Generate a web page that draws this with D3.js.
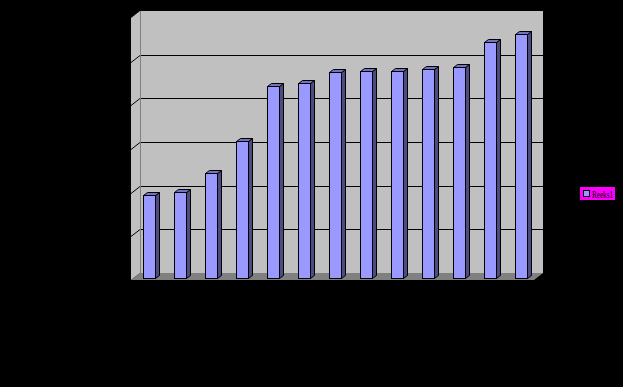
<!DOCTYPE html>
<html>
<head>
<meta charset="utf-8">
<script src="https://cdn.jsdelivr.net/npm/d3@7"></script>
<style>
  html, body { margin: 0; padding: 0; background: #000; }
  svg { display: block; }
</style>
</head>
<body>
<script>
const categories = ["1", "2", "3", "4", "5", "6", "7", "8", "9", "10", "11", "12", "13"]
const values = [19.0, 19.7, 24.0, 31.4, 44.0, 44.6, 47.1, 47.3, 47.3, 47.9, 48.3, 54.0, 55.9]
const yTicks = [0, 10, 20, 30, 40, 50, 60]
const seriesName = "Reeks1"

const width = 623, height = 387
// back wall box and 3d depth offset
const wall = {left: 140, right: 543, top: 11, bottom: 273}
const depth = {dx: -9, dy: 7}
const bar = {w: 12, dx: 4, dy: 3}

const svg = d3.select("body").append("svg")
    .attr("width", width)
    .attr("height", height)
    .style("font", "10px 'Liberation Sans', Arial, sans-serif")

svg.append("rect").attr("width", width).attr("height", height).attr("fill", "#000")

const y = d3.scaleLinear().domain([0, 60]).range([wall.bottom, wall.top])
const x = d3.scaleBand().domain(categories)
    .range([wall.left + depth.dx / 2, wall.right + depth.dx / 2])

const pts = p => p.map(d => d.join(",")).join(" ")
const px = v => Math.round(v) + 0.5

// back wall
svg.append("rect")
    .attr("x", wall.left).attr("y", wall.top)
    .attr("width", wall.right - wall.left).attr("height", wall.bottom - wall.top)
    .attr("fill", "#c0c0c0")

// side wall
svg.append("polygon")
    .attr("points", pts([
        [wall.left, wall.top], [wall.left + depth.dx, wall.top + depth.dy],
        [wall.left + depth.dx, wall.bottom + depth.dy], [wall.left, wall.bottom]
    ]))
    .attr("fill", "#c0c0c0")

// floor
svg.append("polygon")
    .attr("points", pts([
        [wall.left, wall.bottom], [wall.right, wall.bottom],
        [wall.right + depth.dx, wall.bottom + depth.dy], [wall.left + depth.dx, wall.bottom + depth.dy]
    ]))
    .attr("fill", "#808080")

// gridlines on wall + side wall
const grid = svg.append("g").attr("stroke", "#000").attr("stroke-width", 1).attr("fill", "none")
grid.selectAll("path")
    .data(yTicks.filter(t => t > 0 && t < 60))
    .join("path")
    .attr("d", t => `M${wall.left + depth.dx},${px(y(t)) + depth.dy}L${wall.left},${px(y(t))}H${wall.right}`)

svg.append("line")
    .attr("x1", wall.left + 0.5).attr("x2", wall.left + 0.5)
    .attr("y1", wall.top).attr("y2", wall.bottom)
    .attr("stroke", "#808080")

// y tick labels (black on black like the original)
svg.append("g")
    .selectAll("text")
    .data(yTicks)
    .join("text")
    .attr("x", wall.left + depth.dx - 6)
    .attr("y", t => y(t) + depth.dy)
    .attr("dy", "0.32em")
    .attr("text-anchor", "end")
    .attr("fill", "#000")
    .text(t => t)

// x labels
svg.append("g")
    .selectAll("text")
    .data(categories)
    .join("text")
    .attr("x", c => x(c) + x.bandwidth() / 2)
    .attr("y", wall.bottom + depth.dy + 14)
    .attr("text-anchor", "middle")
    .attr("fill", "#000")
    .text(c => c)

// 3d bars
const bars = svg.append("g")
    .attr("stroke", "#000")
    .attr("stroke-width", 1)
    .attr("stroke-linejoin", "miter")
    .selectAll("g")
    .data(categories.map((c, i) => ({c, v: values[i]})))
    .join("g")

const fx = d => px(x(d.c) + x.bandwidth() / 2 - 8.5)
const barBase = px(wall.bottom + 5)
const barTop = d => px(y(d.v) + 5)

bars.append("polygon")
    .attr("fill", "#4c4c80")
    .attr("points", d => pts([
        [fx(d) + bar.w, barTop(d)], [fx(d) + bar.w + bar.dx, barTop(d) - bar.dy],
        [fx(d) + bar.w + bar.dx, barBase - bar.dy], [fx(d) + bar.w, barBase]
    ]))

bars.append("polygon")
    .attr("fill", "#7373bf")
    .attr("points", d => pts([
        [fx(d), barTop(d)], [fx(d) + bar.dx, barTop(d) - bar.dy],
        [fx(d) + bar.w + bar.dx, barTop(d) - bar.dy], [fx(d) + bar.w, barTop(d)]
    ]))

bars.append("rect")
    .attr("fill", "#9999ff")
    .attr("x", fx)
    .attr("y", barTop)
    .attr("width", bar.w)
    .attr("height", d => barBase - barTop(d))

// legend
const legend = svg.append("g").attr("transform", "translate(580,187)")
legend.append("rect").attr("width", 35).attr("height", 13).attr("fill", "#ff00ff")
legend.append("rect")
    .attr("x", 3.5).attr("y", 3.5).attr("width", 6).attr("height", 6)
    .attr("fill", "#9999ff").attr("stroke", "#000")
legend.append("text")
    .attr("x", 12).attr("y", 10.5)
    .attr("textLength", 21)
    .attr("lengthAdjust", "spacingAndGlyphs")
    .style("font", "10px 'Liberation Serif', serif")
    .attr("fill", "#000")
    .text(seriesName)
</script>
</body>
</html>
